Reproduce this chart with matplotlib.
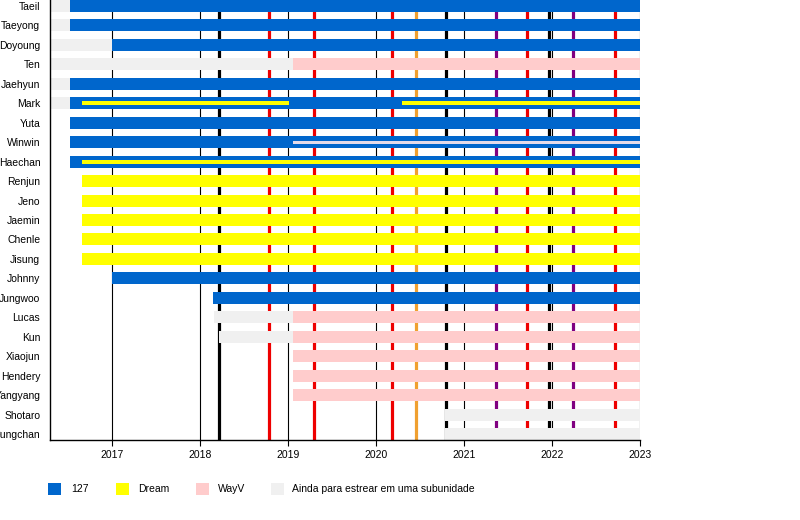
import matplotlib
matplotlib.use("Agg")
import matplotlib.pyplot as plt
from matplotlib.patches import Rectangle

plt.rcParams['font.family'] = ['Liberation Sans', 'DejaVu Sans']

# colours of the units
c127 = "#0066cc"
cdream = "#ffff00"
cwayv = "#ffcccc"
cnone = "#f0f0f0"
cthin = "#e4dbe9"

members = ["Taeil", "Taeyong", "Doyoung", "Ten", "Jaehyun", "Mark", "Yuta", "Winwin",
           "Haechan", "Renjun", "Jeno", "Jaemin", "Chenle", "Jisung", "Johnny", "Jungwoo",
           "Lucas", "Kun", "Xiaojun", "Hendery", "Yangyang", "Shotaro", "Sungchan"]

start = 2016.29
end = 2023.0

# main bars: (member, from, to, colour)
bars = [
    ("Taeil", start, 2016.52, cnone), ("Taeil", 2016.52, end, c127),
    ("Taeyong", start, 2016.52, cnone), ("Taeyong", 2016.52, end, c127),
    ("Doyoung", start, 2016.99, cnone), ("Doyoung", 2016.99, end, c127),
    ("Ten", start, 2019.05, cnone), ("Ten", 2019.05, end, cwayv),
    ("Jaehyun", start, 2016.52, cnone), ("Jaehyun", 2016.52, end, c127),
    ("Mark", start, 2016.52, cnone), ("Mark", 2016.52, end, c127),
    ("Yuta", 2016.52, end, c127),
    ("Winwin", 2016.52, end, c127),
    ("Haechan", 2016.52, end, c127),
    ("Renjun", 2016.65, end, cdream),
    ("Jeno", 2016.65, end, cdream),
    ("Jaemin", 2016.65, end, cdream),
    ("Chenle", 2016.65, end, cdream),
    ("Jisung", 2016.65, end, cdream),
    ("Johnny", 2016.99, end, c127),
    ("Jungwoo", 2018.14, end, c127),
    ("Lucas", 2018.15, 2019.05, cnone), ("Lucas", 2019.05, end, cwayv),
    ("Kun", 2018.21, 2019.05, cnone), ("Kun", 2019.05, end, cwayv),
    ("Xiaojun", 2019.05, end, cwayv),
    ("Hendery", 2019.05, end, cwayv),
    ("Yangyang", 2019.05, end, cwayv),
    ("Shotaro", 2020.78, end, cnone),
    ("Sungchan", 2020.78, end, cnone),
]

# thin bars for second unit
thin = [
    ("Mark", 2016.65, 2019.01, cdream, 0.21),
    ("Mark", 2020.29, end, cdream, 0.21),
    ("Winwin", 2019.05, end, cthin, 0.16),
    ("Haechan", 2016.65, end, cdream, 0.21),
]

# releases (vertical lines)
events = [2018.21, 2018.78, 2019.29, 2020.18, 2020.45, 2020.79,
          2021.36, 2021.72, 2021.96, 2022.24, 2022.71]
event_colors = ["black", "#ee0000", "#ee0000", "#ee0000", "#f0a030", "black",
                "#800080", "#ee0000", "black", "#800080", "#ee0000"]

years = [2017, 2018, 2019, 2020, 2021, 2022, 2023]

fig = plt.figure(figsize=(8, 5.2), dpi=100)
ax = fig.add_axes([50/800, 1-440/520, 590/800, 440/520])

row = {m: i for i, m in enumerate(members)}
h = 12/19.5

for yr in years:
    ax.axvline(yr, color="black", lw=0.8, zorder=1)
for ev, col in zip(events, event_colors):
    ax.axvline(ev, color=col, lw=2.3, zorder=1)

for m, a, b, col in bars:
    ax.barh(row[m], b - a, left=a, height=h, color=col, lw=0, zorder=2)
for m, a, b, col, th in thin:
    ax.barh(row[m], b - a, left=a, height=th, color=col, lw=0, zorder=3)

ax.set_xlim(start, end)
ax.set_ylim(len(members) - 1 + h/2, -h/2)
ax.set_yticks(range(len(members)))
ax.set_yticklabels(members, fontsize=7.5)
ax.tick_params(axis="y", length=0, pad=7)
ax.set_xticks(years)
ax.set_xticklabels([str(y) for y in years], fontsize=7.5)
ax.tick_params(axis="x", length=4, width=0.8, pad=3)
for s in ["top", "right"]:
    ax.spines[s].set_visible(False)
for s in ["left", "bottom"]:
    ax.spines[s].set_linewidth(1.0)

# legend
leg = [(48, c127, 71, "127"), (116, cdream, 138, "Dream"),
       (196, cwayv, 218, "WayV"), (271, cnone, 292, "Ainda para estrear em uma subunidade")]
for px, col, tx, txt in leg:
    fig.patches.append(Rectangle((px/800, 1-495/520), 13/800, 12/520,
                                 transform=fig.transFigure, color=col, lw=0))
    fig.text(tx/800, 1-489/520, txt, fontsize=7.5, va="center", ha="left")

plt.savefig("out.png", dpi=100)
